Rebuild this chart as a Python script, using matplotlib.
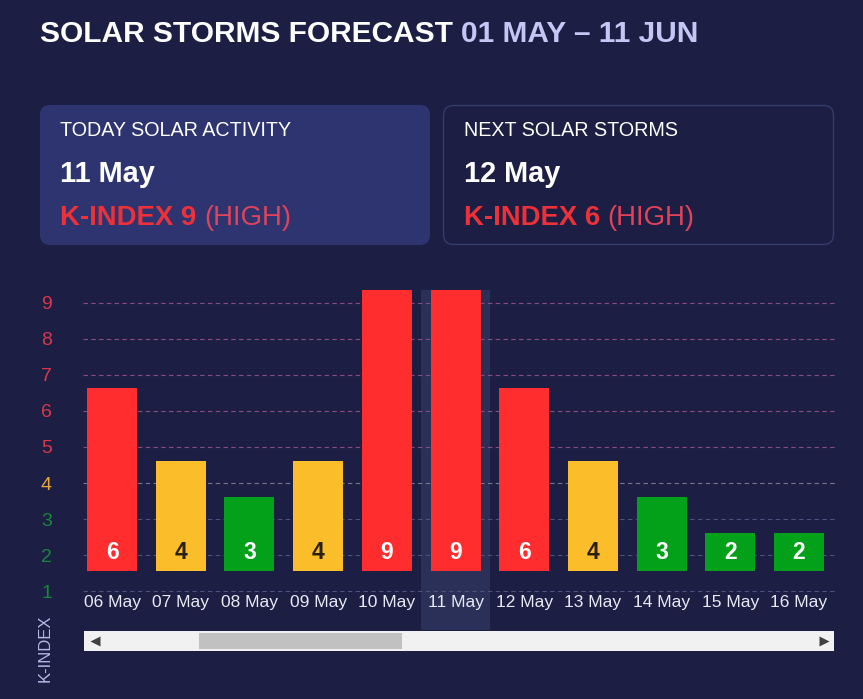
import matplotlib
matplotlib.use('Agg')
import matplotlib.pyplot as plt
from matplotlib.patches import FancyBboxPatch, Rectangle

# ---------------- data ----------------
dates = ['06 May', '07 May', '08 May', '09 May', '10 May', '11 May',
         '12 May', '13 May', '14 May', '15 May', '16 May']
kindex = [6, 4, 3, 4, 9, 9, 6, 4, 3, 2, 2]
levels = [1, 2, 3, 4, 5, 6, 7, 8, 9]
today_idx = 5
title_main = 'SOLAR STORMS FORECAST'
title_range = '01 MAY \u2013 11 JUN'
card_titles = ['TODAY SOLAR ACTIVITY', 'NEXT SOLAR STORMS']
card_dates = ['11 May', '12 May']
card_k = [9, 6]
card_level = ['HIGH', 'HIGH']
y_label = 'K-INDEX'

# ---------------- style ----------------
plt.rcParams['font.family'] = ['Liberation Sans', 'DejaVu Sans']
BG = '#1c1f43'
RED, YEL, GRN = '#ff2d2d', '#fcbd2b', '#03a11a'
TRED, TYEL, TGRN = '#d9364a', '#e9a73a', '#17873a'


def bar_color(v):
    return RED if v >= 5 else (YEL if v == 4 else GRN)


def tick_color(v):
    return TRED if v >= 5 else (TYEL if v == 4 else TGRN)


def grid_color(v):
    return '#8a4a84' if v >= 5 else ('#7a7690' if v == 4 else '#4c5280')


W, H = 863, 699
fig = plt.figure(figsize=(W / 100, H / 100), dpi=100, facecolor=BG)

# overlay for decorations, pixel coordinates
bg = fig.add_axes([0, 0, 1, 1], zorder=0)
bg.set_xlim(0, W)
bg.set_ylim(H, 0)
bg.axis('off')

# title
t1 = bg.text(40, 41.5, title_main, fontsize=21.5, fontweight='bold',
             color='white', ha='left', va='baseline')
bg.annotate(title_range, xy=(1, 0), xycoords=t1, xytext=(6, 0),
            textcoords='offset points', fontsize=21.5, fontweight='bold',
            color='#c4c7f5', ha='left', va='bottom')

# cards
card_x = [40, 443.5]
bg.add_patch(FancyBboxPatch((40, 105), 390, 140,
                            boxstyle='round,pad=0,rounding_size=10',
                            fc='#2e3470', ec='none'))
bg.add_patch(FancyBboxPatch((443.5, 105.5), 390, 139,
                            boxstyle='round,pad=0,rounding_size=10',
                            fc='none', ec='#363b6e', lw=1))
for i in range(2):
    x0 = card_x[i] + 20
    bg.text(x0, 136, card_titles[i], fontsize=14.2, color='white',
            ha='left', va='baseline')
    bg.text(x0, 181.5, card_dates[i], fontsize=20.8, fontweight='bold',
            color='white', ha='left', va='baseline')
    tk = bg.text(x0, 225, f'K-INDEX {card_k[i]}', fontsize=19.8,
                 fontweight='bold', color='#ee3038', ha='left', va='baseline')
    bg.annotate(f'({card_level[i]})', xy=(1, 0), xycoords=tk, xytext=(5.5, 0),
                textcoords='offset points', fontsize=19.8, color='#e2435a',
                ha='left', va='bottom')

# y axis title
bg.text(45, 648, y_label, rotation=90, ha='center', va='center',
        fontsize=12, color='#b4b8e6')

# scrollbar
bg.add_patch(Rectangle((84, 631), 750, 20, fc='#f1f1f1', ec='none'))
bg.add_patch(Rectangle((199, 633), 203, 16, fc='#c1c1c1', ec='none'))
bg.plot([94.5], [641], marker='<', ms=6.5, color='#404040', mec='none')
bg.plot([823.5], [641], marker='>', ms=6.5, color='#404040', mec='none')

# ---------------- chart ----------------
ax = fig.add_axes([83 / W, (H - 630) / H, (837 - 83) / W, (630 - 290) / H],
                  zorder=1)
ax.set_facecolor('none')
step = 68.7
ax.set_xlim((83 - 112) / step, (837 - 112) / step)
ax.set_ylim(1 - (630 - 591.5) / 36.1, 9 + (302.5 - 290) / 36.1)
for s in ax.spines.values():
    s.set_visible(False)

xs = list(range(len(dates)))
ax.axvspan(today_idx - 0.5, today_idx + 0.5, color='#2b3058', zorder=0, lw=0)
for lv in levels:
    ax.axhline(lv, color=grid_color(lv), lw=0.8, ls=(0, (4, 3)), zorder=1)

base = 1.57
top_off = 0.62
heights = [v + top_off - base for v in kindex]
ax.bar(xs, heights, bottom=base, width=50 / step,
       color=[bar_color(v) for v in kindex], zorder=2)

for i, v in enumerate(kindex):
    ax.text(i, 2.07, str(v), ha='center', va='center', fontsize=16.5,
            fontweight='bold', color='#2a2010' if v == 4 else 'white',
            zorder=3)
    ax.text(i, 0.58, dates[i], ha='center', va='baseline', fontsize=12.5,
            color='#e8e9f3', zorder=3)

ax.set_xticks([])
ax.set_yticks(levels)
ax.set_yticklabels([str(v) for v in levels], fontsize=14)
ax.tick_params(axis='y', length=0, pad=26.3)
for lab, v in zip(ax.get_yticklabels(), levels):
    lab.set_color(tick_color(v))
    lab.set_ha('center')

fig.savefig('out.png', dpi=100, facecolor=BG)
